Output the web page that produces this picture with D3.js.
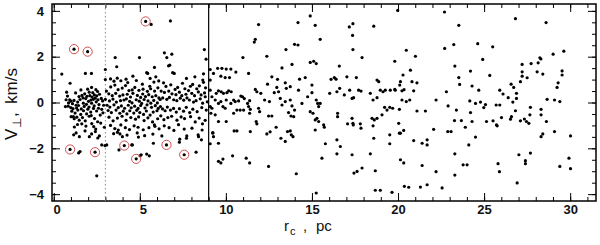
<!DOCTYPE html>
<html>
<head>
<meta charset="utf-8">
<script src="https://cdn.jsdelivr.net/npm/d3@7"></script>
<style>
  body { margin: 0; background: #fff; }
  svg { display: block; font-family: "Liberation Sans", Arial, sans-serif; }
</style>
</head>
<body>
<div id="chart"></div>
<script>
// axis ticks
const xMajorTicks = [0, 5, 10, 15, 20, 25, 30];
const yMajorTicks = [-4, -2, 0, 2, 4];
const xMinorTicks = d3.range(0, 32, 1);
const yMinorTicks = d3.range(-4, 4.01, 0.5);

// reference lines (pc)
const dottedLineX = 3;
const solidLineX = 9;

// stars marked with circles: [r_c, V]
const markedStars = [
  [1.18, 2.33], [1.97, 2.22], [5.34, 3.54], [0.95, -2.05], [2.4, -2.17],
  [4.1, -1.88], [4.79, -2.46], [6.55, -1.85], [7.58, -2.28]
];

// inner region r_c < 9 pc
const innerStars = [
  [0.47, 1.24], [5.66, 3.41], [6.78, 3.56], [4.98, 1.96], [3.57, 1.96], [6.43, 2.17],
  [6.57, 1.96], [6.86, 2.11], [6.67, 1.6], [3.66, 1.56], [5.85, 1.53], [3.0, 1.44],
  [8.75, 2.31], [8.85, 1.89], [6.74, 1.63], [1.84, 1.27], [2.19, 1.27], [3.0, 1.0],
  [4.2, 1.02], [5.4, 1.3], [5.6, 1.05], [6.91, 1.3], [8.66, 0.98], [8.7, 1.25],
  [4.6, 1.15], [3.9, 0.95],
  [1.53, -2.14], [1.45, -2.2], [2.5, -3.2], [2.98, -1.88], [3.79, -2.07], [4.53, -1.85],
  [5.4, -2.25], [5.55, -2.33], [5.79, -1.78], [7.3, -1.73], [8.27, -2.17], [8.64, -0.93],
  [1.14, -0.62], [1.49, -1.49], [2.07, -1.49], [2.2, -1.37], [2.65, -1.46], [2.79, -1.85],
  [3.75, -1.2], [3.85, -1.37], [3.99, -1.49], [4.92, -1.51], [5.85, -0.98], [7.73, -1.46],
  [7.71, -1.56], [5.02, -2.33], [8.41, -1.49], [3.08, -1.85], [4.57, -1.85], [5.08, -2.28],
  [0.95, 0.84], [1.58, 0.55], [1.8, 0.38], [1.97, 0.58], [2.06, 0.45], [2.2, 0.66],
  [2.27, 0.43], [2.45, 0.56], [2.55, 0.48], [1.27, 0.42], [1.47, 0.26], [1.64, 0.31],
  [1.7, 0.2], [1.93, 0.27], [2.1, 0.3], [2.23, 0.24], [2.36, 0.33], [2.5, 0.29],
  [0.8, 0.28], [0.93, 0.12], [0.86, -0.02], [1.0, 0.06], [1.09, -0.05], [1.18, 0.09],
  [1.3, -0.12], [1.39, 0.02], [1.53, 0.13], [1.72, -0.03], [1.86, 0.17], [2.02, 0.05],
  [2.16, 0.11], [2.3, 0.14], [2.41, 0.19], [2.57, 0.12], [2.66, 0.36], [2.76, 0.18],
  [0.84, -0.16], [0.99, -0.22], [1.12, -0.27], [1.33, -0.24], [1.44, -0.13], [1.6, -0.28],
  [1.77, -0.17], [1.9, -0.08], [2.05, -0.2], [2.2, -0.03], [2.35, -0.15], [2.47, 0.03],
  [2.63, -0.09], [2.84, 0.07], [2.9, -0.12], [1.05, -0.38], [1.24, -0.46], [1.4, -0.33],
  [1.57, -0.52], [1.73, -0.36], [1.91, -0.5], [1.98, -0.29], [2.15, -0.42], [2.31, -0.26],
  [2.49, -0.37], [2.6, -0.25], [2.79, -0.3], [1.01, -0.62], [1.19, -0.71], [1.34, -0.64],
  [1.48, -0.77], [1.67, -0.66], [1.83, -0.8], [2.06, -0.6], [2.18, -0.57], [2.37, -0.7],
  [2.55, -0.84], [2.7, -0.55], [2.86, -0.45], [1.2, -1.07], [1.38, -0.96], [1.63, -0.93],
  [1.87, -1.03], [2.21, -0.92], [2.32, -1.05], [2.44, -1.16], [2.73, -0.9], [2.94, -1.08],
  [1.16, -1.41], [1.3, -1.33], [1.82, -1.24], [2.42, -1.27], [2.56, -1.55], [0.72, 0.12],
  [0.68, -0.18], [0.75, 0.45],
  [5.46, 1.27], [5.93, 1.12], [3.3, 1.03], [3.5, 0.93], [3.69, 1.06], [4.3, 0.87],
  [4.8, 0.96], [5.15, 0.8], [5.58, 0.71], [5.82, 0.89], [6.1, 0.94],
  [3.06, 0.5], [3.31, 0.68], [3.55, 0.76], [3.74, 0.56], [3.98, 0.63], [4.17, 0.74],
  [4.37, 0.52], [4.56, 0.55], [4.71, 0.66], [4.95, 0.53], [5.19, 0.58], [5.44, 0.49],
  [5.63, 0.6], [5.86, 0.5], [6.05, 0.64],
  [3.2, 0.38], [3.4, 0.3], [3.6, 0.4], [3.83, 0.28], [4.02, 0.33], [4.27, 0.36],
  [4.46, 0.24], [4.6, 0.4], [4.86, 0.31], [5.05, 0.22], [5.17, 0.37], [5.33, 0.26],
  [5.52, 0.34], [5.72, 0.25], [5.93, 0.3], [6.11, 0.2],
  [3.0, 0.14], [3.24, 0.07], [3.44, 0.15], [3.64, 0.02], [3.88, 0.08], [4.08, 0.11],
  [4.22, 0.16], [4.41, 0.05], [4.55, -0.02], [4.79, 0.12], [4.97, 0.06], [5.11, -0.04],
  [5.25, 0.13], [5.48, 0.07], [5.64, -0.03], [5.81, 0.09], [6.02, -0.02],
  [3.1, -0.12], [3.26, -0.2], [3.5, -0.1], [3.75, -0.22], [3.93, -0.15], [4.12, -0.25],
  [4.33, -0.12], [4.5, -0.23], [4.7, -0.16], [4.9, -0.26], [5.05, -0.13], [5.3, -0.24],
  [5.42, -0.1], [5.68, -0.21], [5.9, -0.14], [6.07, -0.26],
  [3.16, -0.35], [3.35, -0.44], [3.62, -0.33], [3.84, -0.47], [4.04, -0.38], [4.25, -0.5],
  [4.42, -0.36], [4.65, -0.46], [4.82, -0.34], [5.0, -0.44], [5.22, -0.52], [5.38, -0.37],
  [5.6, -0.55], [5.78, -0.42], [6.0, -0.36],
  [3.21, -0.64], [3.45, -0.8], [3.7, -0.68], [3.97, -0.6], [4.2, -0.78], [4.48, -0.66],
  [4.75, -0.73], [4.93, -0.63], [5.25, -0.79], [5.47, -0.67], [5.74, -0.85], [6.04, -0.71],
  [3.3, -1.0], [3.55, -1.14], [3.9, -0.98], [4.16, -1.1], [4.4, -1.18], [4.67, -1.02],
  [4.9, -1.08], [5.2, -1.19], [5.53, -1.1], [5.88, -1.04], [6.12, -1.15],
  [3.48, -1.36], [3.7, -1.3], [4.26, -1.42], [4.85, -1.33], [5.28, -1.45], [5.76, -1.38],
  [7.0, 1.27], [7.71, 1.05], [8.2, 1.12],
  [6.38, 0.86], [6.52, 0.7], [6.8, 0.77], [7.05, 0.57], [7.2, 0.66], [7.48, 0.84],
  [7.62, 0.6], [7.94, 0.71], [8.07, 0.79], [8.31, 0.6], [8.46, 0.73], [8.7, 0.88],
  [8.82, 0.64], [8.76, 0.42],
  [6.24, 0.5], [6.43, 0.44], [6.68, 0.5], [6.87, 0.38], [7.1, 0.34], [7.3, 0.45],
  [7.44, 0.3], [7.68, 0.36], [7.83, 0.52], [8.02, 0.4], [8.18, 0.3], [8.4, 0.46],
  [8.56, 0.33], [8.8, 0.25],
  [6.18, 0.13], [6.33, 0.2], [6.57, 0.14], [6.72, 0.22], [6.97, 0.12], [7.15, 0.08],
  [7.35, 0.19], [7.55, 0.1], [7.74, 0.2], [7.88, 0.11], [8.12, 0.02], [8.27, 0.08],
  [8.51, 0.16], [8.65, -0.03], [8.92, 0.03],
  [6.2, -0.18], [6.32, -0.28], [6.47, -0.36], [6.6, -0.2], [6.78, -0.33], [6.96, -0.26],
  [7.12, -0.42], [7.3, -0.27], [7.54, -0.38], [7.7, -0.21], [7.9, -0.44], [8.08, -0.29],
  [8.33, -0.4], [8.6, -0.22], [8.86, -0.33],
  [6.22, -0.58], [6.4, -0.75], [6.63, -0.66], [6.85, -0.6], [7.16, -0.77], [7.4, -0.63],
  [7.6, -0.7], [7.95, -0.62], [8.22, -0.85], [8.45, -0.68], [8.8, -0.78],
  [6.42, -1.02], [6.7, -1.1], [6.98, -1.22], [7.25, -0.97], [7.58, -1.16], [8.03, -1.12],
  [8.62, -1.2], [6.28, -1.46], [7.32, -1.6], [8.39, -1.41], [8.58, -1.63]
];

// outer region r_c > 9 pc
const outerStars = [
  [10.99, 1.96], [11.65, 2.64], [11.71, 2.76], [11.9, 3.4], [12.38, 2.02], [13.26, 1.51],
  [13.49, 2.31], [13.84, 1.66], [13.99, 2.54], [14.19, 2.51], [14.19, 3.49], [14.9, 3.78],
  [14.9, 1.75], [15.1, 1.8], [15.25, 1.7], [15.19, 3.37], [15.48, 2.76], [16.59, 1.59],
  [17.17, 3.3], [17.38, 3.44], [17.36, 2.93], [17.38, 2.31], [17.91, 1.96], [18.59, 3.33],
  [19.81, 1.8], [19.98, 4.02],
  [9.09, 1.44], [9.28, 1.27], [9.52, 1.49], [9.77, 1.49], [10.02, 1.46], [10.29, 1.46],
  [10.58, 1.33], [11.32, 1.27], [9.71, 1.15], [9.96, 1.09], [10.21, 1.09], [9.09, 0.98],
  [12.67, 1.12], [13.0, 1.01], [12.42, 0.8], [12.96, 0.66], [13.45, 0.86], [14.61, 1.09],
  [14.28, 1.02], [13.51, 0.62], [13.74, 0.69], [15.0, 0.76], [16.11, 1.01], [16.3, 1.09],
  [16.4, 1.02], [17.03, 1.12], [17.58, 1.09], [16.61, 0.62], [18.78, 0.98], [18.88, 0.91],
  [18.97, 0.54], [19.26, 0.54], [19.55, 0.54], [19.81, 0.57], [20.1, 0.76],
  [9.09, 0.54], [9.19, 0.25], [9.44, 0.4], [9.57, 0.51], [9.73, 0.47], [9.86, 0.4],
  [10.06, 0.43], [10.16, 0.51], [10.31, 0.47], [10.45, 0.11], [10.54, 0.04], [10.74, 0.07],
  [10.87, 0.28], [10.97, 0.25], [11.07, 0.17], [11.26, -0.04], [11.38, 0.08], [11.32, -0.18],
  [11.71, 0.57], [11.8, 0.47], [12.03, 0.4], [12.25, 0.11], [12.53, 0.04], [12.81, 0.43],
  [13.06, 0.47], [13.16, 0.18], [13.26, -0.11], [13.45, 0.04], [13.74, 0.11], [13.84, -0.15],
  [13.99, -0.33], [14.22, 0.54], [14.42, -0.04], [14.75, 0.25], [15.0, 0.43], [15.25, 0.11],
  [15.33, -0.04], [15.39, -0.18], [15.48, -0.04], [16.03, 0.4], [16.45, 0.47], [16.88, 0.33],
  [17.19, 0.54], [17.33, 0.18], [17.42, 0.21], [17.71, 0.54], [17.85, 0.5], [18.39, 0.4],
  [18.55, 0.11], [18.78, 0.21], [19.13, 0.47], [19.22, -0.21], [19.36, -0.33], [19.52, -0.21],
  [19.69, -0.25], [19.84, 0.54], [20.08, -0.3], [9.38, 0.11], [9.57, -0.04], [9.71, 0.04],
  [9.83, -0.18], [9.96, -0.25], [10.02, 0.11], [10.29, -0.04], [9.09, -0.18], [9.19, -0.25],
  [9.13, -0.47], [9.38, -0.54], [9.57, -0.83], [10.02, -0.83], [10.45, -0.47], [10.64, -0.33],
  [10.83, -0.33], [11.03, -0.33], [11.42, -0.3], [11.38, -0.47], [11.76, -0.83], [11.8, -0.93],
  [11.9, -0.25], [11.96, -0.4], [12.48, -0.59], [12.67, -0.59], [12.92, -1.08], [13.78, -0.59],
  [13.94, -0.62], [13.64, -0.44], [14.9, -0.4], [15.06, -0.47], [15.19, -0.76], [15.29, -0.69],
  [15.39, -0.83], [15.68, -0.98], [16.49, -0.47], [16.49, -0.62], [17.07, -0.93], [17.33, -0.69],
  [17.38, -0.91], [17.4, -0.98], [17.81, -0.93], [17.85, -1.12], [18.49, -0.69], [18.55, -1.02],
  [18.62, -0.76], [18.78, -0.69], [19.07, -0.54], [20.04, -0.91], [20.08, -1.34],
  [9.24, -1.31], [9.28, -1.49], [9.57, -1.78], [10.48, -1.24], [10.64, -1.24], [11.42, -1.27],
  [12.38, -1.37], [12.57, -1.28], [13.2, -1.56], [13.45, -1.7], [13.58, -1.27], [13.74, -1.24],
  [13.8, -1.41], [13.9, -1.49], [15.19, -1.2], [15.72, -1.08], [15.78, -1.8], [16.45, -1.63],
  [16.65, -1.92], [18.59, -1.56], [19.52, -1.41], [19.52, -1.8], [9.09, -1.8], [9.24, -1.34],
  [9.83, -2.47], [9.71, -2.64], [10.39, -2.33], [11.18, -2.43], [11.38, -2.64], [12.48, -2.79],
  [14.09, -3.11], [15.58, -2.43], [16.45, -2.24], [17.33, -2.28], [17.44, -3.08], [17.62, -3.01],
  [17.91, -2.86], [18.39, -2.24], [18.68, -2.98], [15.25, -3.95], [18.68, -3.83], [18.97, -3.83],
  [19.65, -3.92], [9.57, -2.57],
  [22.7, 3.95], [26.82, 3.66], [28.6, 3.49], [23.53, 3.37], [23.24, 2.53], [22.71, 2.36],
  [24.63, 2.57], [25.5, 2.43], [20.48, 2.28], [21.01, 2.02], [29.01, 2.11], [29.63, 2.24],
  [24.92, 1.88], [23.3, 1.59], [28.24, 1.95], [28.3, 1.9], [28.14, 1.73], [28.08, 1.34],
  [27.73, 1.7], [24.21, 1.37], [25.33, 1.18], [27.21, 1.66], [27.21, 1.34], [27.21, 1.15],
  [27.5, 1.08], [28.41, 1.24], [29.53, 1.38], [29.53, 1.2], [20.29, 1.2], [20.14, 0.91],
  [20.72, 1.41], [20.81, 0.91], [21.1, 0.86], [23.53, 1.09], [23.58, 0.79], [24.3, 0.72],
  [24.69, 0.54], [25.91, 0.54], [26.57, 0.8], [26.72, 0.66], [26.88, 0.4], [26.88, 0.18],
  [27.11, 0.91], [29.3, 0.86], [29.24, 0.66], [20.23, 0.51], [20.35, 0.56], [20.23, 0.11],
  [20.48, 0.04], [20.68, 0.11], [20.91, 0.51], [21.1, -0.37], [21.59, -0.37], [22.21, 0.11],
  [22.81, 0.47], [22.91, -0.15], [23.39, -0.33], [23.28, -0.79], [23.68, -0.79], [23.91, -1.08],
  [24.17, 0.07], [24.21, -0.44], [24.3, -0.83], [24.5, -0.04], [24.79, 0.02], [24.98, -0.22],
  [25.08, -0.09], [25.14, -0.83], [25.52, -0.8], [25.7, -0.11], [25.72, -0.98], [25.76, -1.02],
  [25.91, -0.11], [26.01, -0.66], [26.1, 0.37], [26.4, 0.21], [26.53, -0.73], [26.59, -0.62],
  [26.67, 0.02], [26.82, -0.36], [27.11, -0.8], [27.34, -0.72], [27.46, -0.83], [27.6, -0.91],
  [27.66, -0.54], [27.69, -0.21], [28.31, -0.3], [28.31, -0.54], [28.41, -1.37], [28.31, -1.49],
  [28.62, -0.83], [28.66, 0.14], [29.09, 0.11], [29.4, 0.04], [20.14, -1.34], [20.33, -1.22],
  [20.91, -1.66], [21.4, -1.78], [21.69, -1.63], [21.69, -1.85], [22.07, -1.17], [22.89, -1.27],
  [23.08, -1.27], [24.11, -1.85], [24.5, -1.51], [29.09, -1.27], [30.02, -1.46],
  [20.14, -2.5], [20.33, -2.64], [21.4, -2.75], [22.21, -3.02], [23.3, -2.24], [23.3, -3.17],
  [23.78, -2.72], [24.01, -2.72], [25.81, -2.67], [25.89, -3.02], [27.02, -2.28], [27.4, -2.54],
  [27.4, -2.67], [27.69, -2.21], [29.4, -2.79], [29.93, -2.43], [30.02, -2.89], [26.92, -3.51],
  [20.37, -3.66], [20.62, -3.7], [21.3, -3.69], [21.69, -3.59], [22.56, -3.73]
];

const allStars = innerStars.concat(outerStars, markedStars);

const width = 600;
const height = 245;
const margin = { top: 4, right: 4, bottom: 44, left: 52 };

const svg = d3.select('#chart')
  .append('svg')
  .attr('width', width)
  .attr('height', height);

const x = d3.scaleLinear()
  .domain([-0.1, 31.5])
  .range([margin.left, width - margin.right]);

const y = d3.scaleLinear()
  .domain([-4.3, 4.3])
  .range([height - margin.bottom, margin.top]);

// axes with inward ticks on all four sides
function drawAxis(axisFn, scale, ticks, size, translate, labels) {
  const g = svg.append('g')
    .attr('transform', translate)
    .call(axisFn(scale).tickValues(ticks).tickSize(size).tickFormat(labels ? d3.format('d') : ''));
  g.select('.domain').remove();
  g.selectAll('line').attr('stroke', '#000').attr('stroke-width', 1);
  return g;
}

const bottomY = height - margin.bottom;
const rightX = width - margin.right;

drawAxis(d3.axisBottom, x, xMinorTicks, -4, `translate(0,${bottomY})`, false);
const xAxis = drawAxis(d3.axisBottom, x, xMajorTicks, -8, `translate(0,${bottomY})`, true);
drawAxis(d3.axisTop, x, xMinorTicks, -4, `translate(0,${margin.top})`, false);
drawAxis(d3.axisTop, x, xMajorTicks, -8, `translate(0,${margin.top})`, false);

drawAxis(d3.axisLeft, y, yMinorTicks, -4, `translate(${margin.left},0)`, false);
const yAxis = drawAxis(d3.axisLeft, y, yMajorTicks, -8, `translate(${margin.left},0)`, true);
drawAxis(d3.axisRight, y, yMinorTicks, -4, `translate(${rightX},0)`, false);
drawAxis(d3.axisRight, y, yMajorTicks, -8, `translate(${rightX},0)`, false);

xAxis.selectAll('text')
  .attr('y', 4)
  .attr('dy', '0.71em')
  .attr('dx', d => d < 10 ? 3 : 0)
  .style('font-size', '13px')
  .style('font-weight', 'bold')
  .style('fill', '#111');

yAxis.selectAll('text')
  .attr('x', -8)
  .text(d => d < 0 ? '\u2212' + Math.abs(d) : d)
  .style('font-size', '13px')
  .style('font-weight', 'bold')
  .style('fill', '#111');

// frame
svg.append('rect')
  .attr('x', margin.left)
  .attr('y', margin.top)
  .attr('width', rightX - margin.left)
  .attr('height', bottomY - margin.top)
  .attr('fill', 'none')
  .attr('stroke', '#000')
  .attr('stroke-width', 1.5);

// vertical reference lines
svg.append('line')
  .attr('x1', x(dottedLineX)).attr('x2', x(dottedLineX))
  .attr('y1', margin.top).attr('y2', bottomY)
  .attr('stroke', '#888')
  .attr('stroke-width', 1)
  .attr('stroke-dasharray', '1.5,2.5');

svg.append('line')
  .attr('x1', x(solidLineX)).attr('x2', x(solidLineX))
  .attr('y1', margin.top).attr('y2', bottomY)
  .attr('stroke', '#000')
  .attr('stroke-width', 1.2);

// points
svg.selectAll('.star')
  .data(allStars)
  .enter()
  .append('circle')
  .attr('class', 'star')
  .attr('cx', d => x(d[0]))
  .attr('cy', d => y(d[1]))
  .attr('r', 1.6)
  .attr('fill', '#000');

// red rings round the marked stars
svg.selectAll('.ring')
  .data(markedStars)
  .enter()
  .append('circle')
  .attr('class', 'ring')
  .attr('cx', d => x(d[0]))
  .attr('cy', d => y(d[1]))
  .attr('r', 4.6)
  .attr('fill', 'none')
  .attr('stroke', '#d05050')
  .attr('stroke-width', 1);

// axis titles
const xTitle = svg.append('text')
  .attr('y', 231)
  .style('font-size', '15px')
  .style('fill', '#111');
xTitle.append('tspan').attr('x', 284).text('r');
xTitle.append('tspan').attr('x', 290).attr('dy', 4).style('font-size', '11px').text('c');
xTitle.append('tspan').attr('x', 303).attr('dy', -4).text(',');
xTitle.append('tspan').attr('x', 316).text('pc');

const yTitle = svg.append('text')
  .attr('transform', 'translate(17,0) rotate(-90)')
  .style('font-size', '17px')
  .style('fill', '#111');
yTitle.append('tspan').attr('x', -140).text('V');
yTitle.append('tspan').attr('x', -128).attr('dy', 4).style('font-size', '12px').text('\u22A5');
yTitle.append('tspan').attr('x', -117).attr('dy', -4).text(',');
yTitle.append('tspan').attr('x', -104).text('km/s');
</script>
</body>
</html>
